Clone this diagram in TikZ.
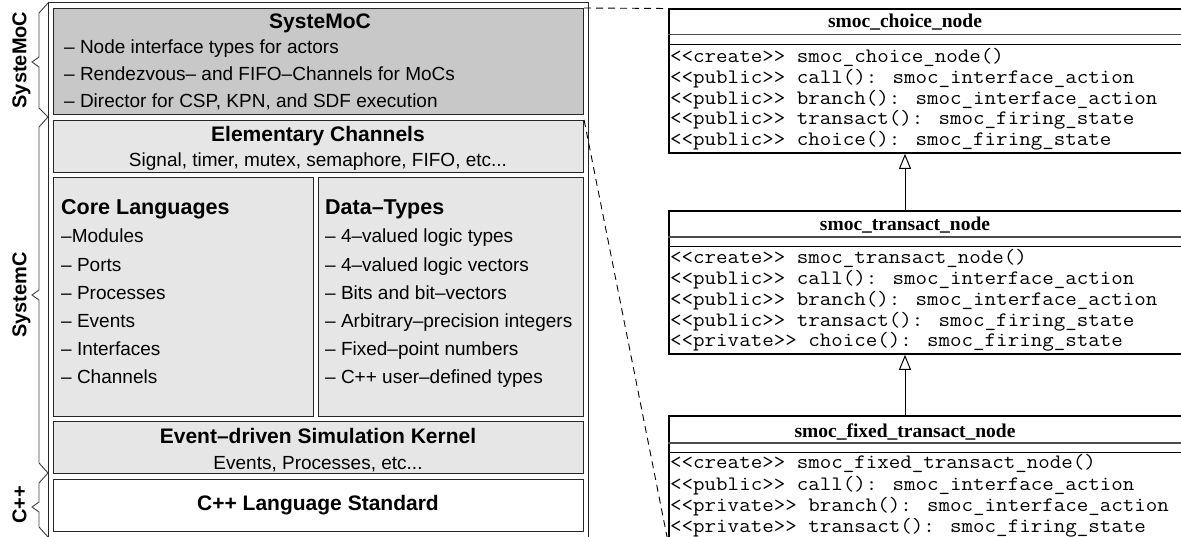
\documentclass[tikz,border=0pt]{standalone}
\usepackage{fontspec}
\usepackage{graphicx}
\setmainfont{Liberation Serif}
\setsansfont{Liberation Sans}
\newfontfamily\helv{Liberation Sans}
\newfontfamily\tms{Liberation Serif}
\usetikzlibrary{arrows.meta}

\definecolor{mocgray}{HTML}{C8C8C8}
\definecolor{layergray}{HTML}{E6E6E6}

% one method row of a class box (typewriter, slightly widened)
\newcommand\umlop[1]{\scalebox{1.09}[1]{\ttfamily\fontsize{20.5}{22}\selectfont #1}}

\begin{document}
\begin{tikzpicture}[x=1pt,y=-1pt,
  layer/.style={draw=black!85, line width=1.1pt, fill=layergray, inner sep=0pt, anchor=north west},
  frame/.style={draw=black!85, line width=1pt},
  bracket/.style={draw=black!75, line width=0.9pt, line join=miter},
  sidelabel/.style={font=\helv\bfseries\fontsize{20}{22}\selectfont, rotate=90, anchor=base, inner sep=0pt},
  ttl/.style={font=\helv\bfseries\fontsize{21}{24}\selectfont, inner sep=0pt, anchor=base},
  ttlw/.style={font=\helv\bfseries\fontsize{21.5}{24}\selectfont, inner sep=0pt, anchor=base west},
  txt/.style={font=\helv\fontsize{19}{22}\selectfont, inner sep=0pt, anchor=base west},
  txtc/.style={font=\helv\fontsize{19}{22}\selectfont, inner sep=0pt, anchor=base},
  umlbox/.style={draw=black, line width=1.8pt, fill=white, inner sep=0pt, anchor=north west},
  umltitle/.style={font=\tms\bfseries\fontsize{19.5}{21}\selectfont, inner sep=0pt, anchor=base},
  umlrow/.style={inner sep=0pt, anchor=base west},
  sepA/.style={draw=black!70, line width=1.3pt},
  sepB/.style={draw=black, line width=1pt},
  zoomline/.style={draw=black, line width=0.9pt, dash pattern=on 7pt off 5pt},
  inherit/.style={draw=black, line width=1pt, -{Triangle[fill=white, width=12pt, length=15pt, line width=1pt]}}
]
\useasboundingbox (0,0) rectangle (1181,537);
\clip (0,0) rectangle (1181,537);

% ---------------- layered architecture ----------------
\draw[frame] (48,545) -- (48,3) -- (588,3) -- (588,545);

\node[layer, fill=mocgray, minimum width=530pt, minimum height=106pt] (moc) at (53,8) {};
\node[layer, minimum width=530pt, minimum height=52pt] (elem) at (53,120) {};
\node[layer, minimum width=260pt, minimum height=239pt] (core) at (53,177) {};
\node[layer, minimum width=265pt, minimum height=239pt] (dtypes) at (318,177) {};
\node[layer, minimum width=530pt, minimum height=52pt] (kernel) at (53,421) {};
\node[layer, fill=white, minimum width=530pt, minimum height=52pt] (cpp) at (53,479) {};

\node[ttl] (mocT) at (320,29) {SysteMoC};
\node[txt] (moc1) at (64,53.5) {– Node interface types for actors};
\node[txt] (moc2) at (64,81) {– Rendezvous– and FIFO–Channels for MoCs};
\node[txt] (moc3) at (64,107.5) {– Director for CSP, KPN, and SDF execution};

\node[ttl] (elemT) at (318,141.5) {Elementary Channels};
\node[txtc] (elem1) at (318,166.5) {Signal, timer, mutex, semaphore, FIFO, etc...};

\node[ttlw] (coreT) at (61,215) {Core Languages};
\node[txt] (core1) at (61,243) {–Modules};
\node[txt] (core2) at (61,271.5) {– Ports};
\node[txt] (core3) at (61,299.5) {– Processes};
\node[txt] (core4) at (61,327.5) {– Events};
\node[txt] (core5) at (61,355.5) {– Interfaces};
\node[txt] (core6) at (61,383.5) {– Channels};

\node[ttlw] (dtT) at (325,215) {Data–Types};
\node[txt] (dt1) at (325,243) {– 4–valued logic types};
\node[txt] (dt2) at (325,271.5) {– 4–valued logic vectors};
\node[txt] (dt3) at (325,299.5) {– Bits and bit–vectors};
\node[txt] (dt4) at (325,327.5) {– Arbitrary–precision integers};
\node[txt] (dt5) at (325,355.5) {– Fixed–point numbers};
\node[txt] (dt6) at (325,383.5) {– C++ user–defined types};

\node[ttl] (kernT) at (318,443.5) {Event–driven Simulation Kernel};
\node[txtc] (kern1) at (318,469.5) {Events, Processes, etc...};

\node[ttl] (cppT) at (318,510.5) {C++ Language Standard};

% side brackets and their labels
\draw[bracket] (48,3) -- (39,13) -- (39,57) -- (32,62) -- (39,67) -- (39,108) -- (48,117);
\draw[bracket] (48,117) -- (39,127) -- (39,290) -- (32,295) -- (39,300) -- (39,463) -- (48,473);
\draw[bracket] (48,473) -- (39,483) -- (39,502) -- (32,507) -- (39,512) -- (39,527) -- (48,537);
\node[sidelabel] (lmoc) at (26.5,60) {SysteMoC};
\node[sidelabel] (lsc) at (26.5,295) {SystemC};
\node[sidelabel] (lcpp) at (26.5,505) {C++};

% ---------------- class hierarchy ----------------
\node[umlbox, minimum width=540pt, minimum height=143.5pt] (c1) at (668,8.5) {};
\draw[sepA] (668,34.5) -- (1210,34.5);
\draw[sepB] (668,45) -- (1210,45);
\node[umltitle] (t1) at (905,28) {smoc\_choice\_node};
\node[umlrow] (c1r1) at (670,62.5) {\umlop{<{}<create>{}> smoc\_choice\_node()}};
\node[umlrow] (c1r2) at (670,83.5) {\umlop{<{}<public>{}> call(): smoc\_interface\_action}};
\node[umlrow] (c1r3) at (670,104.5) {\umlop{<{}<public>{}> branch(): smoc\_interface\_action}};
\node[umlrow] (c1r4) at (670,125) {\umlop{<{}<public>{}> transact(): smoc\_firing\_state}};
\node[umlrow] (c1r5) at (670,146) {\umlop{<{}<public>{}> choice(): smoc\_firing\_state}};

\node[umlbox, minimum width=540pt, minimum height=143pt] (c2) at (668,210) {};
\draw[sepA] (668,237) -- (1210,237);
\draw[sepB] (668,247) -- (1210,247);
\node[umltitle] (t2) at (905,230.5) {smoc\_transact\_node};
\node[umlrow] (c2r1) at (670,263.5) {\umlop{<{}<create>{}> smoc\_transact\_node()}};
\node[umlrow] (c2r2) at (670,284.5) {\umlop{<{}<public>{}> call(): smoc\_interface\_action}};
\node[umlrow] (c2r3) at (670,305.5) {\umlop{<{}<public>{}> branch(): smoc\_interface\_action}};
\node[umlrow] (c2r4) at (670,326.5) {\umlop{<{}<public>{}> transact(): smoc\_firing\_state}};
\node[umlrow] (c2r5) at (670,347) {\umlop{<{}<private>{}> choice(): smoc\_firing\_state}};

\node[umlbox, minimum width=540pt, minimum height=125pt] (c3) at (668,415) {};
\draw[sepA] (668,443) -- (1210,443);
\draw[sepB] (668,452) -- (1210,452);
\node[umltitle] (t3) at (905,437) {smoc\_fixed\_transact\_node};
\node[umlrow] (c3r1) at (670,468.5) {\umlop{<{}<create>{}> smoc\_fixed\_transact\_node()}};
\node[umlrow] (c3r2) at (670,490) {\umlop{<{}<public>{}> call(): smoc\_interface\_action}};
\node[umlrow] (c3r3) at (670,511) {\umlop{<{}<private>{}> branch(): smoc\_interface\_action}};
\node[umlrow] (c3r4) at (670,532) {\umlop{<{}<private>{}> transact(): smoc\_firing\_state}};

% generalisation arrows
\draw[inherit] (c2.north -| t2) -- (c1.south -| t1);
\draw[inherit] (c3.north -| t3) -- (c2.south -| t2);

% zoom lines from the SysteMoC layer to the classes
\draw[zoomline] (moc.north east) -- (c1.north west);
\draw[zoomline] (elem.north east) -- (c3.south west);
\end{tikzpicture}
\end{document}
